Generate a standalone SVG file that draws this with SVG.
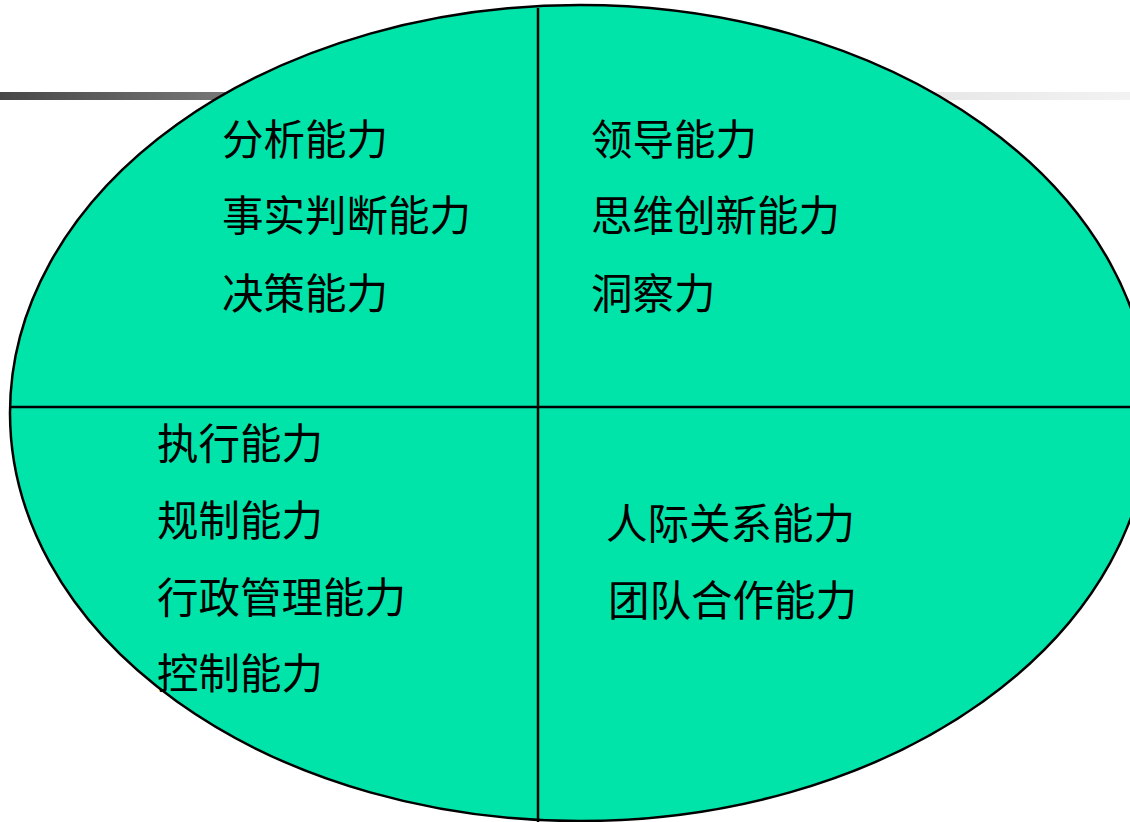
<svg xmlns="http://www.w3.org/2000/svg" width="1130" height="822" viewBox="0 0 1130 822">
<defs>
<linearGradient id="bar" x1="0" y1="0" x2="1" y2="0">
<stop offset="0" stop-color="#474747"/>
<stop offset="0.2" stop-color="#777777"/>
<stop offset="0.65" stop-color="#dcdcdc"/>
<stop offset="1" stop-color="#f2f2f2"/>
</linearGradient>
<style>
.t{font-family:"Noto Sans CJK SC","Noto Sans",sans-serif;font-size:41.5px;fill:#000}
.ln{stroke:#000;stroke-width:2.5;fill:none}
</style>
</defs>
<rect width="1130" height="822" fill="#fff"/>
<rect x="0" y="92" width="1130" height="8" fill="url(#bar)"/>
<g id="ellipse">
<ellipse cx="580" cy="413" rx="570" ry="408" fill="#00E4AA" stroke="#000" stroke-width="2.5"/>
</g>
<g id="connectors">
<line class="ln" x1="538" y1="8" x2="538" y2="822"/>
<line class="ln" x1="10" y1="407" x2="1130" y2="407"/>
</g>
<g id="q1">
<text class="t" x="222" y="155">分析能力</text>
<text class="t" x="222" y="231">事实判断能力</text>
<text class="t" x="222" y="309">决策能力</text>
</g>
<g id="q2">
<text class="t" x="591" y="155">领导能力</text>
<text class="t" x="591" y="231">思维创新能力</text>
<text class="t" x="591" y="309">洞察力</text>
</g>
<g id="q3">
<text class="t" x="157" y="459">执行能力</text>
<text class="t" x="157" y="536">规制能力</text>
<text class="t" x="157" y="613">行政管理能力</text>
<text class="t" x="157" y="689">控制能力</text>
</g>
<g id="q4">
<text class="t" x="606" y="539">人际关系能力</text>
<text class="t" x="608" y="616">团队合作能力</text>
</g>
</svg>
